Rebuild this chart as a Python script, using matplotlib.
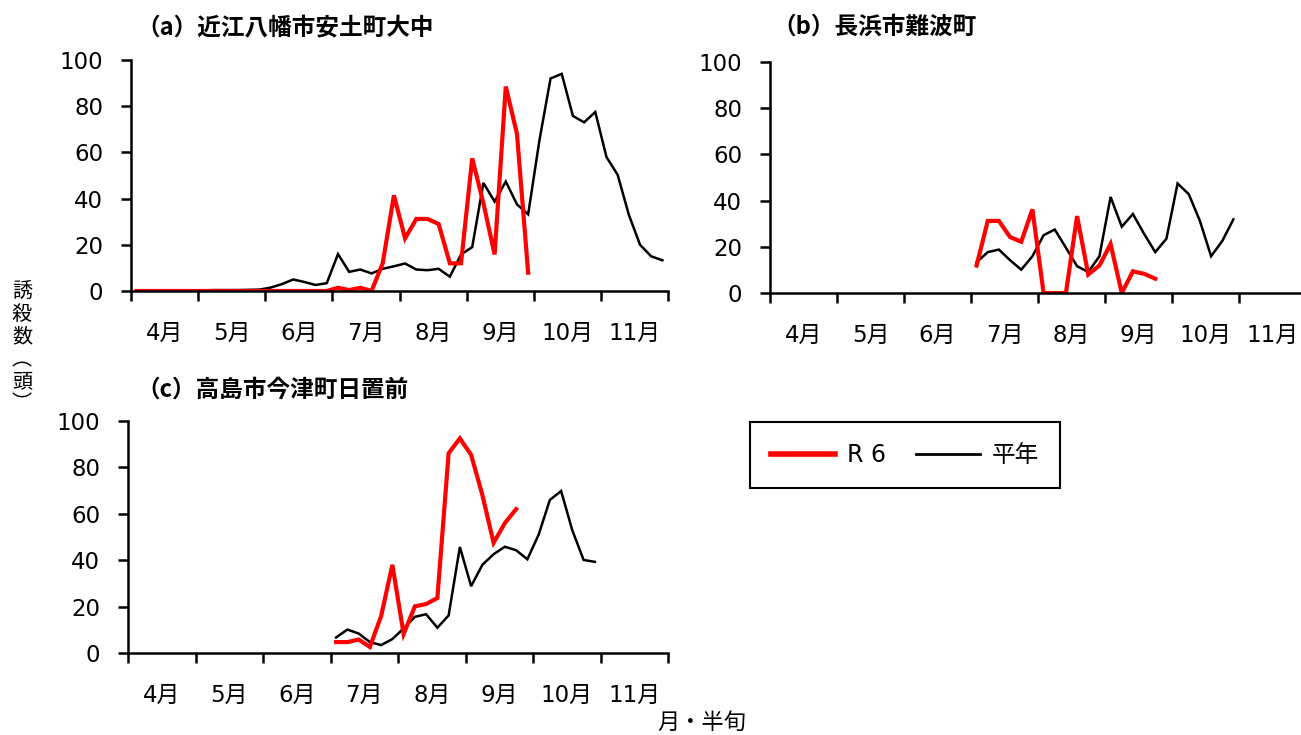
import matplotlib
matplotlib.use('Agg')
import matplotlib.pyplot as plt
from matplotlib.lines import Line2D

plt.rcParams['font.family'] = ['DejaVu Sans', 'Noto Sans CJK JP']

# x = 半旬 index (4月第1半旬 = 0, 6 per month)
months = ['4月', '5月', '6月', '7月', '8月', '9月', '10月', '11月']
titles = ['（a）近江八幡市安土町大中', '（b）長浜市難波町', '（c）高島市今津町日置前']
series_names = ['R 6', '平年']

# (a) 近江八幡市安土町大中
a_start = 0
a_avg = [0, 0, 0, 0, 0, 0.2, 0.3, 0.4, 0.4, 0.4, 0.5, 0.6,
         1.5, 3, 5, 3.9, 2.6, 3.4, 16, 8.3, 9.3, 7.6, 9.6, 10.7,
         11.9, 9.3, 9, 9.6, 6.2, 15.8, 19, 46.8, 38.7, 47.4, 37.5, 33.2,
         65, 92, 94, 75.8, 73, 77.5, 58, 50.3, 33, 20, 15, 13.3]
a_r6 = [0, 0, 0, 0, 0, 0, 0, 0, 0, 0, 0, 0,
        0, 0, 0, 0, 0, 0, 1.4, 0.4, 1.4, 0, 12, 41.4,
        22.8, 31.2, 31.2, 29, 12, 12, 57.4, 38, 15.8, 88.5, 68, 7.9]

# (b) 長浜市難波町
b_start = 18
b_avg = [13.3, 17.7, 18.8, 14.2, 10.1, 15.9, 25, 27.5, 19.6, 11.6, 9.1, 15.9,
         41.6, 28.7, 34.2, 25.6, 17.7, 23.5, 47.4, 42.8, 31.2, 15.9, 22.5, 31.9]
b_r6 = [11.9, 31.2, 31.2, 24.2, 22.2, 36.2, 0, 0, 0, 33.3, 8, 11.9,
        21.2, 0, 9.4, 8.3, 6.2]

# (c) 高島市今津町日置前
c_start = 18
c_avg = [6.7, 10.1, 8.4, 4.7, 3.4, 6, 10.6, 15.6, 16.7, 10.9, 16.2, 45.7,
         28.8, 38, 42.6, 45.8, 44.3, 40.4, 51, 66, 69.8, 52.8, 40.1, 39.3]
c_r6 = [4.7, 4.7, 5.8, 2.6, 15.9, 38, 8.2, 20.1, 21.1, 23.7, 86.1, 92.5,
        85.4, 68.1, 47.5, 56, 62]

W, H = 1301, 735
fig = plt.figure(figsize=(W / 100, H / 100), dpi=100)


def px_axes(left, right, y0, y100):
    return fig.add_axes([left / W, 1 - y0 / H, (right - left) / W, (y0 - y100) / H])


def draw_panel(ax, start, r6, avg):
    n_per = 6
    ax.plot(range(start, start + len(avg)), avg, color='black', lw=1.8, solid_joinstyle='miter')
    ax.plot(range(start, start + len(r6)), r6, color='#ff0000', lw=3.0, solid_joinstyle='miter')
    ax.set_xlim(-0.5, len(months) * n_per - 0.5)
    ax.set_ylim(0, 100)
    ax.set_yticks(range(0, 101, 20))
    ax.set_xticks([k * n_per - 0.5 for k in range(len(months) + 1)])
    ax.set_xticklabels([])
    ax.set_xticks([k * n_per + 2.5 for k in range(len(months))], minor=True)
    ax.set_xticklabels(months, minor=True)
    ax.tick_params(axis='x', which='major', direction='out', length=7, width=1.8)
    ax.tick_params(axis='x', which='minor', length=0, pad=22, labelsize=16.5)
    ax.tick_params(axis='y', direction='out', length=7, width=1.8, pad=13, labelsize=16.5)
    for s in ['top', 'right']:
        ax.spines[s].set_visible(False)
    for s in ['left', 'bottom']:
        ax.spines[s].set_linewidth(1.8)


ax_a = px_axes(131, 668, 291, 60)
draw_panel(ax_a, a_start, a_r6, a_avg)
ax_b = px_axes(770, 1306, 293, 62)
draw_panel(ax_b, b_start, b_r6, b_avg)
ax_c = px_axes(128, 668, 653, 421)
draw_panel(ax_c, c_start, c_r6, c_avg)

title_font = dict(fontsize=17, fontweight='bold', family=['Noto Sans CJK JP'], va='center', ha='left')
fig.text(136 / W, 1 - 27 / H, titles[0], **title_font)
fig.text(772 / W, 1 - 27 / H, titles[1], **title_font)
fig.text(136 / W, 1 - 390 / H, titles[2], **title_font)

fig.text(22 / W, 1 - 348 / H, '誘\n殺\n数\n︵\n頭\n︶', ha='center', va='center',
         fontsize=14.5, linespacing=1.1, family=['Noto Sans CJK JP'])
fig.text(746 / W, 1 - 722 / H, '月・半旬', ha='right', va='center', fontsize=16,
         family=['Noto Sans CJK JP'])

handles = [Line2D([], [], color='#ff0000', lw=4), Line2D([], [], color='black', lw=2)]
leg = fig.legend(handles, series_names, loc='center', bbox_to_anchor=(905 / W, 1 - 455 / H),
                 ncol=2, fontsize=17, frameon=True, fancybox=False, edgecolor='black',
                 framealpha=1, handlelength=2.7, columnspacing=1.3, handletextpad=0.5,
                 borderpad=0.9, borderaxespad=0)
leg.get_frame().set_linewidth(1.5)

fig.savefig('out.png', dpi=100)
